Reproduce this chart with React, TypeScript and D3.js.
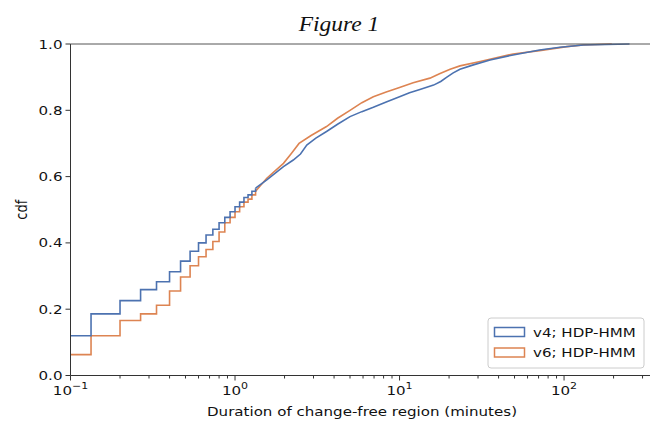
import React from "react";
import * as d3 from "d3";

// Discrete early steps (minutes, 4-second resolution)
const stepX = [0.1, 0.1333, 0.2, 0.2667, 0.3333, 0.4, 0.4667, 0.5333, 0.6, 0.6667, 0.7333, 0.8, 0.8667, 0.9333, 1.0, 1.0667, 1.1333, 1.2, 1.2667, 1.3333];
const v4StepY = [0.12, 0.186, 0.226, 0.259, 0.283, 0.313, 0.345, 0.375, 0.40, 0.424, 0.441, 0.461, 0.477, 0.494, 0.509, 0.523, 0.537, 0.545, 0.556, 0.565];
const v6StepY = [0.063, 0.12, 0.166, 0.186, 0.212, 0.255, 0.297, 0.331, 0.358, 0.38, 0.404, 0.433, 0.461, 0.477, 0.494, 0.509, 0.523, 0.532, 0.545, 0.556];

// Fine-grained tail
const v4TailX = [1.3333, 1.56, 1.97, 2.26, 2.5, 2.73, 3.1, 3.6, 4.2, 5.0, 5.9, 6.93, 8.3, 10, 11.5, 13.3, 16.1, 17.8, 19.4, 21.2, 23.3, 28.1, 35.5, 49, 71, 94.6, 131, 250];
const v4TailY = [0.565, 0.59, 0.63, 0.65, 0.668, 0.695, 0.716, 0.736, 0.758, 0.781, 0.796, 0.809, 0.825, 0.841, 0.853, 0.863, 0.876, 0.887, 0.90, 0.913, 0.924, 0.937, 0.952, 0.967, 0.982, 0.99, 0.997, 1.0];
const v6TailX = [1.3333, 1.56, 1.97, 2.2, 2.45, 2.9, 3.6, 4.2, 5.0, 5.9, 6.93, 8.3, 10, 12.1, 15.3, 17.5, 20.3, 23.3, 30.9, 49, 71, 104, 131, 195];
const v6TailY = [0.556, 0.595, 0.64, 0.67, 0.70, 0.724, 0.751, 0.776, 0.80, 0.823, 0.841, 0.855, 0.869, 0.883, 0.897, 0.91, 0.924, 0.934, 0.947, 0.97, 0.98, 0.992, 0.997, 1.0];

const seriesNames = ["v4; HDP-HMM", "v6; HDP-HMM"];
const seriesColors = ["#4c72b0", "#dd8452"];
const yTicks = [0, 0.2, 0.4, 0.6, 0.8, 1.0];
const xMajor = [-1, 0, 1, 2];

const W = 650, H = 422;
const L = 70.5, R = 650, T = 44, B = 375.5;
const SX = 1.16;
const font = "DejaVu Sans, sans-serif";

function Txt({ x, y, anchor, size, children, family, italic, sx, dy }: any) {
  return (
    <g transform={`translate(${x},${y}) scale(${sx ?? SX},1)`}>
      <text textAnchor={anchor || "start"} fontFamily={family || font} fontStyle={italic ? "italic" : "normal"} fontSize={size || 13} dy={dy} fill="#111">
        {children}
      </text>
    </g>
  );
}

export default function App() {
  const x = d3.scaleLog().domain([0.1, 333]).range([L, R]);
  const y = d3.scaleLinear().domain([0, 1]).range([B, T]);
  const stepLine = d3.line<[number, number]>().x(d => x(d[0])).y(d => y(d[1])).curve(d3.curveStepAfter);
  const linLine = d3.line<[number, number]>().x(d => x(d[0])).y(d => y(d[1]));

  const steps = [v4StepY, v6StepY].map(ys => stepX.map((xv, i) => [xv, ys[i]] as [number, number]));
  const tails = [
    v4TailX.map((xv, i) => [xv, v4TailY[i]] as [number, number]),
    v6TailX.map((xv, i) => [xv, v6TailY[i]] as [number, number]),
  ];

  const minor: number[] = [];
  for (let e = -1; e <= 2; e++) for (let k = 2; k <= 9; k++) {
    const v = k * Math.pow(10, e);
    if (v < 333) minor.push(v);
  }

  return (
    <svg width={W} height={H} style={{ position: "absolute", left: 0, top: 0, background: "#fff" }}>
      <defs>
        <clipPath id="plot"><rect x={L} y={T - 2} width={R - L} height={B - T + 4} /></clipPath>
      </defs>
      <Txt x={339} y={31} anchor="middle" family="Liberation Serif, serif" italic size={21} sx={1.12}>Figure 1</Txt>

      <g clipPath="url(#plot)">
        {[1, 0].map(i => (
          <g key={i}>
            <path d={stepLine(steps[i]) || ""} fill="none" stroke={seriesColors[i]} strokeWidth={1.6} />
            <path d={linLine(tails[i]) || ""} fill="none" stroke={seriesColors[i]} strokeWidth={1.6} />
          </g>
        ))}
      </g>

      {/* spines */}
      <line x1={L} x2={L} y1={T} y2={B} stroke="#333" strokeWidth={1} />
      <line x1={L} x2={R} y1={B} y2={B} stroke="#333" strokeWidth={1} />
      <line x1={L} x2={R} y1={T} y2={T} stroke="#555" strokeWidth={1} />

      {/* y ticks */}
      {yTicks.map(t => (
        <g key={t}>
          <line x1={L - 5} x2={L} y1={y(t)} y2={y(t)} stroke="#333" />
          <Txt x={L - 8} y={y(t)} dy="0.35em" anchor="end">{t.toFixed(1)}</Txt>
        </g>
      ))}
      <g transform={`translate(27,${(T + B) / 2}) rotate(-90)`}>
        <text textAnchor="middle" fontFamily={font} fontSize={13} transform={`scale(1,${SX})`} fill="#111">cdf</text>
      </g>

      {/* x ticks */}
      {minor.map(v => (
        <line key={v} x1={x(v)} x2={x(v)} y1={B} y2={B + 3} stroke="#333" />
      ))}
      {xMajor.map(e => (
        <g key={e}>
          <line x1={x(Math.pow(10, e))} x2={x(Math.pow(10, e))} y1={B} y2={B + 5} stroke="#333" />
          <Txt x={x(Math.pow(10, e))} y={395} anchor="middle">
            10<tspan dy={-6} fontSize={9.5}>{e === -1 ? "\u22121" : String(e)}</tspan>
          </Txt>
        </g>
      ))}
      <Txt x={362} y={416} anchor="middle">Duration of change-free region (minutes)</Txt>

      {/* legend */}
      <rect x={488} y={318} width={156} height={50} rx={3} fill="#fff" fillOpacity={0.8} stroke="#ccc" />
      {seriesNames.map((n, i) => (
        <g key={n}>
          <rect x={494.5} y={327.5 + i * 20.5} width={30} height={9} fill="none" stroke={seriesColors[i]} strokeWidth={1.5} />
          <Txt x={533} y={332 + i * 20.5} dy="0.35em">{n}</Txt>
        </g>
      ))}
    </svg>
  );
}
